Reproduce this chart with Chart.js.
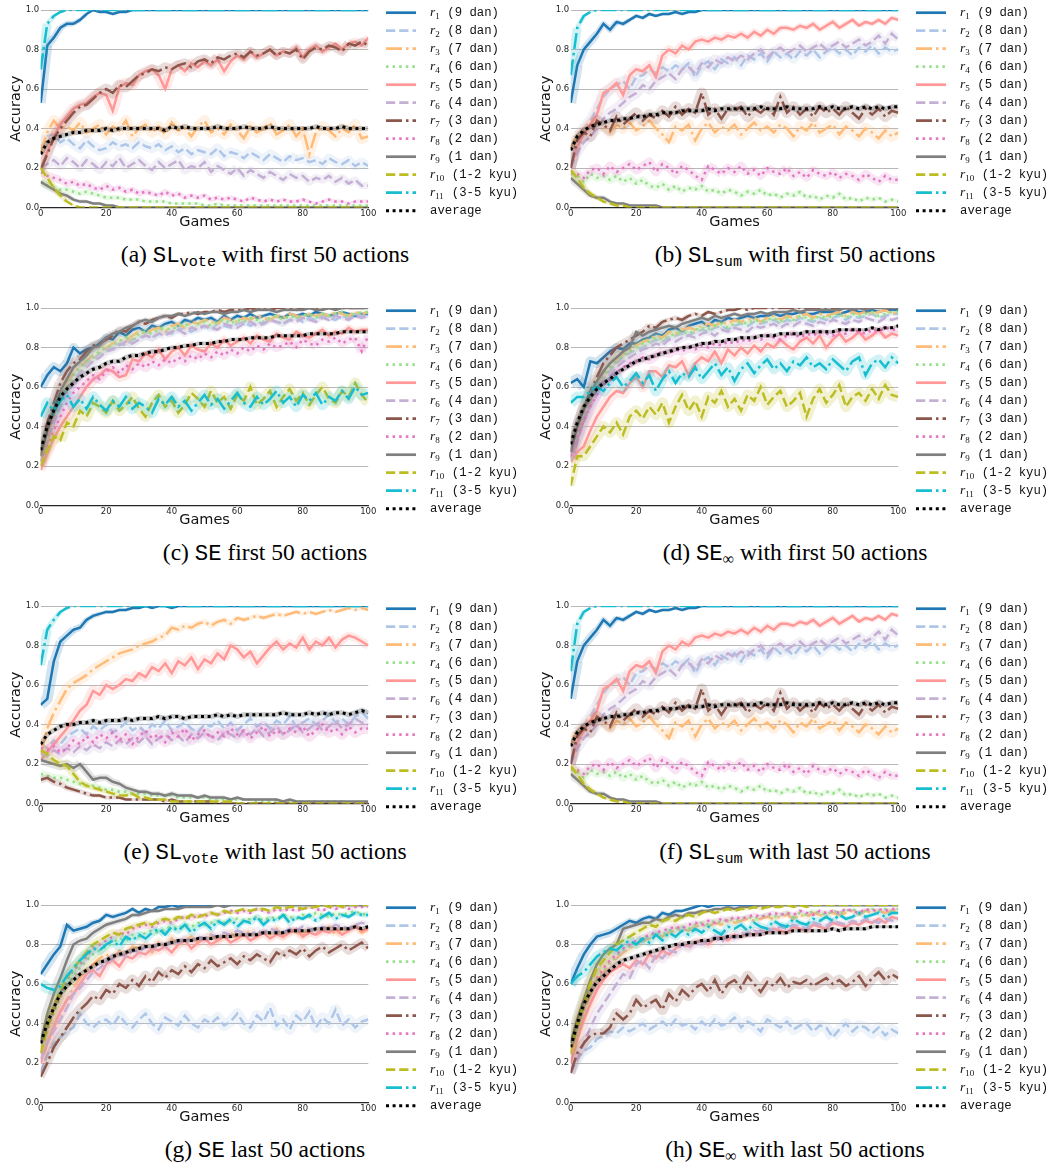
<!DOCTYPE html>
<html>
<head>
<meta charset="utf-8">
<script src="https://cdn.jsdelivr.net/npm/chart.js@4"></script>
<style>
  body { margin: 0; background: #fff; }
  #page { position: relative; width: 1053px; height: 1165px; overflow: hidden; background: #fff; }
  .panel { position: absolute; width: 528px; height: 232px; }
  .cap { position: absolute; width: 530px; text-align: center; font-family: "Liberation Serif", serif;
         font-size: 23.5px; line-height: 24px; color: #000; white-space: nowrap; }
  .tt { font-family: "Liberation Mono", monospace; font-size: 0.95em; }
  .cap sub { font-size: 0.68em; vertical-align: -0.28em; line-height: 0; }
  #warn { position: absolute; left: 400px; top: 270px; color: red; font: 14px sans-serif; }
</style>
</head>
<body>
<div id="page"></div>
<script>
// x positions (games), one point every 2 games
const games = [0,2,4,6,8,10,12,14,16,18,20,22,24,26,28,30,32,34,36,38,40,42,44,46,48,50,
  52,54,56,58,60,62,64,66,68,70,72,74,76,78,80,82,84,86,88,90,92,94,96,98,100];
const xTickLabels = ['0', '20', '40', '60', '80', '100'];
const yTickLabels = ['0.0', '0.2', '0.4', '0.6', '0.8', '1.0'];
const seriesNames = ['(9 dan)', '(8 dan)', '(7 dan)', '(6 dan)', '(5 dan)', '(4 dan)',
  '(3 dan)', '(2 dan)', '(1 dan)', '(1-2 kyu)', '(3-5 kyu)', 'average'];

// accuracy values in percent

// (a) SL_vote, first 50 actions
const a_r1 = [53,82,86,91,93,93,95,98,100,99, 99,98,99,99,100,100,100,100,100,100,
  100,100,100,100,100,100,100,100,100,100, 100,100,100,100,100,100,100,100,100,100,
  100,100,100,100,100,100,100,100,100,100, 100];
const a_r2 = [30,36,37,33,35,32,30,34,31,29, 30,33,31,32,30,33,31,30,32,29,
  31,28,30,27,29,28,27,30,26,28, 27,25,28,26,24,27,25,23,26,24, 25,23,24,22,25,23,22,24,21,23, 21];
const a_r3 = [28,38,44,40,41,39,43,38,40,42, 37,41,39,44,36,40,42,38,41,37,
  43,39,40,36,41,44,38,40,37,42, 39,35,41,38,40,43,37,39,42,36, 40,27,38,41,39,36,40,38,42,35, 36];
const a_r4 = [13,11,10,9,9,8,7,8,7,6, 5,5,5,4,4,4,3,3,3,3, 2,2,2,2,2,1,1,2,1,1,
  1,1,1,1,1,1,1,1,1,1, 1,1,1,1,1,1,1,1,1,1, 1];
const a_r5 = [20,28,36,42,46,50,52,53,56,58, 57,49,61,63,62,67,69,70,67,60,
  70,72,69,73,71,74,72,75,69,74, 77,75,79,76,78,80,77,79,78,81, 76,80,82,79,81,83,80,83,84,82, 86];
const a_r6 = [20,22,24,21,25,23,20,24,22,19, 23,21,25,20,22,24,21,19,23,20,
  22,24,19,21,20,23,18,21,19,17, 20,16,19,17,15,18,16,14,17,15, 16,13,15,14,16,13,15,12,14,11, 11];
const a_r7 = [19,27,35,40,44,48,51,52,55,58, 60,58,62,61,64,67,68,70,69,71,
  70,72,73,71,74,75,73,76,75,77, 78,76,79,77,78,80,77,79,78,80, 75,79,81,80,82,81,79,83,82,84, 82];
const a_r8 = [18,16,15,14,12,13,11,12,10,9, 11,9,10,8,9,7,8,7,6,8, 6,7,5,6,5,6,4,5,4,5,
  4,3,5,4,3,4,3,4,3,3, 4,3,2,3,4,3,3,2,3,3, 3];
const a_r9 = [13,11,9,7,6,4,3,3,2,2, 1,1,0,0,0,0,0,0,0,0, 0,0,0,0,0,0,0,0,0,0,
  0,0,0,0,0,0,0,0,0,0, 0,0,0,0,0,0,0,0,0,0, 0];
const a_r10 = [20,15,10,6,3,1,0,0,0,0, 0,0,0,0,0,0,0,0,0,0, 0,0,0,0,0,0,0,0,0,0,
  0,0,0,0,0,0,0,0,0,0, 0,0,0,0,0,0,0,0,0,0, 0];
const a_r11 = [70,93,97,99,100,100,100,100,100,100, 100,100,100,100,100,100,100,100,100,100,
  100,100,100,100,100,100,100,100,100,100, 100,100,100,100,100,100,100,100,100,100,
  100,100,100,100,100,100,100,100,100,100, 100];
const a_avg = [27,33,35,36,37,38,38,39,39,39, 40,39,40,40,40,40,40,40,40,39,
  41,40,41,40,40,40,40,41,40,40, 40,41,40,40,40,41,40,40,40,40, 40,40,41,40,40,40,41,40,40,40, 40];

// (b) SL_sum, first 50 actions  (panel (f) shows the same curves)
const b_r1 = [53,72,80,84,88,93,90,94,93,95, 97,96,98,97,98,98,99,98,99,99,
  100,100,100,100,100,100,100,100,100,100, 100,100,100,100,100,100,100,100,100,100,
  100,100,100,100,100,100,100,100,100,100, 100];
const b_r2 = [20,36,40,44,50,56,60,62,64,60, 66,67,70,68,71,69,72,70,73,66,
  72,74,70,75,73,76,72,77,75,78, 74,79,76,78,75,79,77,80,76,79, 81,78,80,77,81,79,82,78,81,79, 80];
const b_r3 = [30,36,39,42,43,41,38,42,40,43, 39,41,44,40,37,33,41,39,42,34,
  40,43,38,41,39,42,37,40,43,39, 41,38,42,40,36,41,39,43,38,40, 42,37,41,39,36,40,38,35,39,36, 38];
const b_r4 = [17,16,13,17,15,16,14,16,13,15, 12,14,11,10,12,9,11,8,10,9,
  11,8,9,7,9,8,6,8,7,9, 6,7,5,7,6,8,5,6,4,6, 5,7,4,5,3,5,4,5,3,4, 3];
const b_r5 = [20,31,37,42,47,58,60,63,57,67, 70,69,72,66,77,80,78,82,80,84,
  85,84,86,85,87,86,88,86,89,87, 90,88,91,91,90,92,91,93,90,92, 94,91,93,95,92,94,93,95,93,96, 95];
const b_r6 = [20,28,33,36,40,45,48,50,53,56, 58,62,60,64,66,68,65,70,71,68,
  73,71,75,73,76,74,77,75,78,80, 76,79,81,78,80,82,79,81,83,80, 82,84,81,83,85,82,84,87,83,88, 85];
const b_r7 = [20,34,38,36,44,42,39,46,42,45, 48,44,47,45,49,46,51,47,50,48,
  58,47,50,45,50,49,51,46,50,48, 51,47,56,48,51,47,50,46,51,48, 50,47,51,48,45,50,47,50,46,49, 48];
const b_r8 = [18,17,15,19,20,17,21,18,20,22, 19,21,23,18,22,20,17,21,19,16,
  14,21,19,17,20,18,21,17,19,16, 20,18,17,20,16,18,15,19,17,16, 18,15,17,16,14,17,15,13,16,14, 14];
const b_r9 = [15,12,9,6,5,5,3,2,2,1, 1,1,1,1,0,0,0,0,0,0, 0,0,0,0,0,0,0,0,0,0,
  0,0,0,0,0,0,0,0,0,0, 0,0,0,0,0,0,0,0,0,0, 0];
const b_r10 = [19,15,10,7,5,3,2,1,1,0, 0,0,0,0,0,0,0,0,0,0, 0,0,0,0,0,0,0,0,0,0,
  0,0,0,0,0,0,0,0,0,0, 0,0,0,0,0,0,0,0,0,0, 0];
const b_r11 = [67,91,97,99,100,100,100,100,100,100, 100,100,100,100,100,100,100,100,100,100,
  100,100,100,100,100,100,100,100,100,100, 100,100,100,100,100,100,100,100,100,100,
  100,100,100,100,100,100,100,100,100,100, 100];
const b_avg = [29,36,39,41,42,43,44,44,45,45, 46,46,47,47,48,48,48,49,49,49,
  49,50,49,50,50,50,50,50,50,51, 50,50,50,51,50,50,50,50,51,50, 51,50,50,51,50,51,50,51,50,51, 51];

// (c) SE, first 50 actions
const c_r1 = [60,66,70,68,72,80,77,79,80,82, 85,84,88,86,89,90,88,91,90,92,
  93,91,94,93,95,94,95,93,96,94, 96,95,97,95,96,97,96,95,97,96, 97,96,98,97,96,97,98,97,96,97, 97];
const c_r2 = [22,33,43,52,58,64,68,72,74,77, 79,80,82,81,84,85,86,85,87,88,
  87,89,90,88,90,91,89,92,91,90, 92,93,91,93,92,94,93,92,94,95, 93,95,94,96,95,94,96,95,97,96, 96];
const c_r3 = [22,35,45,55,62,67,70,73,76,78, 80,82,84,83,86,88,87,89,90,88,
  91,92,90,93,92,94,93,92,95,94, 93,95,94,96,95,94,96,95,97,96, 95,97,96,97,96,98,97,96,98,97, 98];
const c_r4 = [22,34,44,53,60,66,69,73,75,78, 80,81,83,85,84,87,88,87,89,90,
  89,91,92,90,92,93,91,93,94,92, 94,93,95,94,93,95,96,94,96,95, 96,97,95,97,96,97,98,96,97,98, 98];
const c_r5 = [18,26,34,40,45,50,55,60,64,66, 69,68,65,66,74,73,77,75,79,74,
  78,80,76,81,79,78,82,80,84,81, 83,85,82,86,84,83,87,85,84,88, 86,85,87,89,86,88,87,90,88,89, 89];
const c_r6 = [22,32,42,50,57,62,67,70,73,75, 78,79,81,83,82,84,86,85,87,86,
  88,89,87,90,89,91,90,89,92,91, 90,92,93,91,92,94,93,92,94,93, 95,94,93,95,94,96,95,94,96,95, 96];
const c_r7 = [25,42,52,62,68,72,74,78,81,82, 84,86,89,88,91,93,92,94,95,96,
  95,97,97,98,97,98,98,99,98,99, 99,99,100,99,100,99,100,100,100,99,
  100,100,100,100,100,100,100,100,100,100, 100];
const c_r8 = [20,30,38,45,52,57,60,63,66,64, 68,70,67,71,69,72,70,73,71,74,
  72,75,73,76,74,77,75,78,76,79, 77,80,78,81,79,82,80,81,83,80, 84,82,81,84,83,85,82,84,85,78, 86];
const c_r9 = [25,38,48,58,64,70,73,76,80,81, 85,87,88,90,91,93,94,93,95,96,
  96,97,96,97,98,97,98,98,97,98, 98,99,98,99,99,99,98,99,99,99, 99,100,99,99,100,99,100,100,100,100, 100];
const c_r10 = [20,28,35,33,42,40,48,45,52,50, 47,53,48,51,55,49,45,52,56,50,
  53,47,51,57,54,50,58,52,55,49, 56,53,60,51,54,58,50,55,59,53, 57,51,56,60,54,52,58,55,62,56, 52];
const c_r11 = [45,52,48,53,56,50,54,49,55,51, 48,53,50,55,49,52,50,47,54,51,
  55,50,53,48,52,56,51,54,49,53, 57,52,50,55,51,54,58,52,55,50, 56,53,57,51,55,53,58,54,60,56, 57];
const c_avg = [28,40,48,55,59,62,65,67,69,70, 72,73,73,75,76,76,77,78,78,79,
  80,80,81,81,82,82,82,83,83,84, 84,84,85,85,85,85,86,86,86,86, 86,87,87,87,87,87,88,88,88,88, 88];

// (d) SE_inf, first 50 actions
const d_r1 = [62,64,60,73,72,75,78,80,79,82, 82,84,85,87,86,89,90,88,91,92,
  93,91,94,93,95,94,95,96,95,96, 96,97,96,97,97,98,97,97,98,98, 98,97,98,99,98,98,99,98,99,99, 99];
const d_r2 = [24,34,44,52,58,64,68,72,75,77, 79,80,82,84,83,85,86,87,86,88,
  89,88,90,91,89,91,92,91,93,92, 93,94,92,94,93,95,94,93,95,94, 95,96,94,96,95,96,97,95,96,97, 97];
const d_r3 = [24,36,46,55,62,67,71,74,77,79, 81,83,84,86,85,88,87,89,90,89,
  91,92,91,93,92,94,93,94,95,93, 95,96,94,96,95,96,97,95,97,96, 97,98,96,98,97,98,97,98,99,97, 98];
const d_r4 = [24,35,45,53,60,65,70,73,76,78, 80,82,83,85,84,86,87,88,87,89,
  90,89,91,92,90,92,93,92,94,93, 94,95,93,95,94,96,95,94,96,95, 96,97,95,97,96,97,98,96,97,98, 98];
const d_r5 = [22,27,30,38,45,50,55,58,57,62, 65,60,68,68,65,71,70,73,66,72,
  75,73,78,72,79,76,80,77,81,78, 82,80,84,81,79,83,85,82,86,80, 84,87,83,85,88,84,86,89,85,87, 86];
const d_r6 = [23,32,42,50,56,62,66,70,73,75, 77,79,80,82,81,84,83,85,86,85,
  87,88,86,89,88,90,89,88,91,90, 91,92,90,92,91,93,92,91,93,92, 94,93,92,94,93,95,94,93,95,94, 95];
const d_r7 = [27,40,50,58,65,72,76,80,82,84, 86,88,91,90,93,94,95,94,96,97,
  96,98,97,98,99,99,100,99,100,100, 100,100,100,100,100,100,100,100,100,100,
  100,100,100,100,100,100,100,100,100,100, 100];
const d_r8 = [25,35,43,50,56,61,64,67,70,72, 73,75,74,76,78,77,79,78,80,79,
  81,80,82,81,83,82,84,83,85,84, 86,85,84,86,87,85,87,86,88,87, 86,88,87,89,88,87,89,88,90,89, 89];
const d_r9 = [27,40,49,57,63,68,72,75,78,80, 88,86,88,89,90,91,90,92,93,94,
  95,94,96,95,96,97,96,97,97,98, 97,98,98,98,99,98,99,99,99,99, 99,99,100,99,100,99,100,100,100,100, 100];
const d_r10 = [10,25,25,30,35,40,37,42,36,45, 48,44,50,46,52,42,50,56,48,53,
  45,55,52,58,50,54,48,56,53,60, 51,55,58,50,53,57,45,54,59,52, 56,61,50,55,57,53,59,54,61,56, 55];
const d_r11 = [52,55,55,58,60,58,62,65,60,63, 67,62,66,58,64,68,62,67,65,70,
  64,68,72,66,70,63,69,72,67,71, 74,69,72,68,73,71,75,70,72,69, 74,71,68,73,75,66,72,74,70,75, 72];
const d_avg = [31,42,50,55,59,62,64,67,69,71, 73,74,75,76,77,78,79,80,80,81,
  82,82,83,83,84,84,85,85,85,86, 86,86,87,87,87,87,88,88,88,88, 88,89,89,89,89,89,90,89,90,90, 91];

// (e) SL_vote, last 50 actions
const e_r1 = [50,53,72,82,85,88,89,93,95,96, 97,97,98,98,99,99,100,99,100,100,
  99,100,100,100,100,100,100,100,100,100, 100,100,100,100,100,100,100,100,100,100,
  100,100,100,100,100,100,100,100,100,100, 100];
const e_r2 = [30,28,32,30,34,36,38,35,39,37, 40,36,38,41,37,39,36,40,38,42,
  37,39,41,38,36,40,39,42,38,41, 37,40,43,39,41,38,42,40,44,39, 41,43,40,42,45,41,43,40,44,46, 43];
const e_r3 = [25,38,46,52,58,61,63,65,68,70, 72,74,76,77,78,80,81,82,84,85,
  89,88,90,89,91,92,90,92,93,91, 94,93,94,95,94,95,96,95,96,97, 96,97,96,97,98,97,98,99,98,99, 98];
const e_r4 = [15,14,13,13,12,11,10,9,9,8, 7,7,6,6,5,5,5,4,4,4, 4,3,3,3,3,3,2,2,2,2,
  2,2,2,1,1,1,1,1,1,1, 1,1,1,1,1,1,1,0,0,0, 0];
const e_r5 = [22,26,30,34,38,42,47,50,57,55, 60,58,60,63,62,66,64,69,67,71,
  66,72,70,74,68,73,71,76,73,80, 78,74,77,71,75,79,82,78,81,79, 84,78,82,80,84,79,83,85,84,82, 80];
const e_r6 = [25,24,27,25,28,26,29,27,30,28, 31,29,32,30,33,31,34,30,33,35,
  32,34,31,35,33,36,34,32,36,35, 33,37,35,38,34,36,39,35,37,40, 36,38,41,37,39,42,38,40,43,41, 40];
const e_r7 = [12,13,11,10,8,7,6,5,4,4, 3,3,3,2,2,2,2,2,2,1, 2,1,1,1,1,1,1,0,0,0,
  0,0,0,0,0,0,0,0,0,0, 0,0,0,0,0,0,0,0,0,0, 0];
const e_r8 = [28,27,29,26,28,32,30,34,31,35, 33,36,32,35,30,34,37,33,35,31,
  36,34,38,32,35,37,33,36,34,38, 35,37,33,36,39,34,37,35,38,36, 39,34,37,40,36,38,35,39,36,38, 38];
const e_r9 = [22,21,20,19,20,18,20,16,12,13, 13,11,10,8,7,6,6,5,5,4, 5,4,4,4,3,4,3,3,3,2,
  3,2,2,2,2,2,2,1,2,1, 1,1,1,1,1,1,1,1,1,1, 1];
const e_r10 = [27,25,22,20,19,15,11,9,8,7, 6,5,4,4,5,3,3,2,2,2, 1,1,1,1,1,1,1,1,1,1,
  0,0,0,0,0,0,0,0,0,0, 0,0,0,0,0,0,0,0,0,0, 0];
const e_r11 = [70,88,93,97,99,100,100,100,100,100, 100,100,100,100,100,100,100,100,100,100,
  100,100,100,100,100,100,100,100,100,100, 100,100,100,100,100,100,100,100,100,100,
  100,100,100,100,100,100,100,100,100,100, 100];
const e_avg = [30,35,37,39,40,40,41,41,42,41, 42,42,42,43,42,43,43,43,44,43,
  44,44,43,44,44,44,44,45,44,45, 44,45,45,45,45,45,45,46,45,45, 45,46,45,46,45,46,46,45,46,47, 46];

// (g) SE, last 50 actions
const g_r1 = [65,70,75,79,90,87,88,89,91,92, 95,94,95,96,98,96,98,97,99,99,
  100,99,100,100,100,100,100,100,100,100, 100,100,100,100,100,100,100,100,100,100,
  100,100,100,100,100,100,100,100,100,100, 100];
const g_r2 = [15,24,30,33,36,38,45,40,38,41, 42,39,44,40,38,42,45,40,37,43,
  41,39,44,40,38,42,40,43,39,41, 45,40,38,44,41,48,39,42,37,44, 41,46,38,43,40,47,39,42,38,41, 42];
const g_r3 = [22,30,38,45,52,58,63,67,70,73, 75,72,77,75,79,78,80,76,81,79,
  83,80,82,84,81,83,85,82,84,86, 83,85,87,84,86,85,88,84,87,86, 85,88,86,87,89,85,88,87,89,86, 88];
const g_r4 = [25,36,45,53,59,64,68,72,75,77, 79,81,83,82,85,84,86,87,86,88,
  89,88,90,89,91,90,91,92,91,92, 93,92,93,94,92,94,93,95,94,93, 95,94,96,95,94,96,95,96,97,95, 96];
const g_r5 = [20,30,38,46,52,55,60,65,67,64, 70,72,69,74,73,76,75,78,77,79,
  76,80,82,78,81,83,80,82,84,81, 83,85,82,84,86,83,85,84,86,88, 84,86,85,87,86,88,85,87,89,87, 88];
const g_r6 = [22,30,36,42,48,55,58,62,66,68, 71,73,75,74,77,76,79,78,80,79,
  82,81,83,82,84,83,85,84,86,85, 87,86,85,87,86,88,87,86,88,87, 89,88,87,89,88,90,89,88,90,91, 90];
const g_r7 = [13,20,28,33,38,43,47,50,54,52, 57,55,60,58,62,59,64,61,66,63,
  67,65,69,66,70,68,72,69,71,73, 70,74,72,75,73,71,76,74,77,75, 78,74,77,79,76,78,80,77,79,81, 78];
const g_r8 = [25,37,47,55,62,67,70,74,78,80, 82,84,86,85,88,89,90,89,91,92,
  91,93,94,93,95,94,96,95,96,97, 96,97,96,98,97,96,98,97,98,97, 98,99,98,97,99,98,99,98,99,99, 99];
const g_r9 = [30,45,55,63,72,80,82,83,86,88, 90,91,92,93,95,95,96,97,97,98,
  98,98,99,99,99,99,99,100,99,100, 100,100,100,100,100,100,100,100,100,100,
  100,100,100,100,100,100,100,100,100,100, 100];
const g_r10 = [25,38,48,57,63,68,72,76,80,82, 84,86,85,88,89,90,91,90,92,93,
  92,94,93,95,94,95,96,95,97,96, 97,98,97,98,98,97,99,98,99,99, 98,99,99,100,99,100,99,100,100,100, 100];
const g_r11 = [60,58,57,59,64,68,72,75,78,77, 80,82,79,84,82,85,83,86,88,85,
  89,87,90,86,89,91,88,92,90,93, 89,92,91,94,90,93,92,95,91,94, 93,95,92,94,96,93,95,94,96,95, 95];
const g_avg = [30,40,48,55,59,62,65,67,69,71, 72,74,75,76,77,78,79,79,80,80,
  81,82,82,82,83,83,83,84,84,84, 85,85,85,85,86,86,86,86,87,87, 87,87,88,88,88,88,88,88,89,88, 89];

// (h) SE_inf, last 50 actions
const h_r1 = [60,68,75,80,84,85,86,88,90,92, 91,93,94,93,96,95,97,97,98,99,
  100,99,100,100,100,100,100,100,100,100, 100,100,100,100,100,100,100,100,100,100,
  100,100,100,100,100,100,100,100,100,100, 100];
const h_r2 = [15,22,26,28,32,34,36,35,38,36, 38,40,37,39,41,38,42,39,40,37,
  41,38,42,39,40,43,38,41,39,36, 42,40,38,41,37,39,40,36,39,38, 33,37,40,36,39,38,35,38,34,37, 35];
const h_r3 = [24,36,46,54,61,66,70,73,76,78, 80,82,83,85,84,86,87,88,87,89,
  90,89,91,90,92,91,92,93,92,93, 94,93,94,95,93,95,94,96,95,94, 96,95,96,97,95,97,96,97,96,97, 97];
const h_r4 = [24,37,47,55,62,67,71,74,77,79, 81,83,84,86,85,87,88,89,88,90,
  91,90,92,91,93,92,93,94,93,94, 95,94,95,96,94,96,95,97,96,95, 97,96,97,98,96,97,98,97,98,97, 98];
const h_r5 = [20,32,42,50,57,62,66,68,70,68, 72,70,75,73,77,75,78,80,79,81,
  82,80,83,84,82,85,84,86,85,87, 86,88,87,86,89,88,87,90,89,88, 91,90,89,91,90,92,91,93,91,94, 93];
const h_r6 = [15,22,30,38,45,50,55,60,65,63, 70,72,68,75,73,77,76,80,78,81,
  80,82,84,81,85,83,86,85,87,86, 88,87,89,88,90,89,88,91,90,89, 92,91,90,92,91,93,92,91,93,92, 93];
const h_r7 = [15,25,30,34,35,35,38,45,42,45, 52,48,50,52,47,55,51,57,54,58,
  60,56,62,55,60,62,58,64,60,56, 61,59,63,58,61,60,62,59,61,63, 60,62,59,61,64,59,63,66,62,65, 63];
const h_r8 = [25,38,48,56,63,68,72,75,78,80, 82,83,85,86,87,88,89,88,90,91,
  90,92,91,93,92,94,93,94,95,94, 95,96,95,96,95,97,96,95,97,96, 97,96,98,97,96,98,97,98,97,98, 98];
const h_r9 = [30,42,52,62,70,75,78,80,88,89, 90,91,91,93,92,94,95,94,96,96,
  97,97,98,98,99,98,99,99,99,100, 99,100,100,100,100,100,100,100,100,100,
  100,100,100,100,100,100,100,100,100,100, 100];
const h_r10 = [25,40,50,60,68,72,76,80,82,84, 86,88,90,89,92,93,92,94,95,94,
  96,97,96,97,98,97,98,98,99,98, 99,99,99,100,99,100,99,100,100,100,
  100,100,100,100,100,100,100,100,100,100, 100];
const h_r11 = [60,64,66,70,74,76,78,77,80,82, 80,83,81,85,82,86,84,87,85,88,
  86,89,87,85,89,88,90,87,91,89, 88,92,90,89,93,91,90,93,92,94, 92,95,93,94,96,94,95,96,94,96, 96];
const h_avg = [28,40,50,56,61,64,67,70,72,73, 74,75,76,77,78,79,80,80,81,81,
  82,82,83,83,84,84,84,85,85,85, 86,86,86,86,87,87,87,87,87,87, 88,87,88,88,88,88,89,89,89,89, 89];

// ---- styling ----
const lineColors = ['#1f77b4', '#aec7e8', '#ffbb78', '#98df8a', '#ff9896', '#c5b0d5',
  '#8c564b', '#e377c2', '#7f7f7f', '#bcbd22', '#17becf', '#000000'];
const LW = 2.5;
const dashes = { solid: [], dashed: [9.25, 4], dashdot: [16, 4, 2.5, 4], dotted: [2.5, 4.1], avg: [3, 3.6] };
const lineDash = ['solid', 'dashed', 'dashdot', 'dotted', 'solid', 'dashed', 'dashdot', 'dotted',
  'solid', 'dashed', 'dashdot', 'avg'];

const panels = [
  { id: 'a', col: 0, row: 0, series: [a_r1, a_r2, a_r3, a_r4, a_r5, a_r6, a_r7, a_r8, a_r9, a_r10, a_r11, a_avg],
    cap: '(a) <span class="tt">SL<sub>vote</sub></span> with first 50 actions' },
  { id: 'b', col: 1, row: 0, series: [b_r1, b_r2, b_r3, b_r4, b_r5, b_r6, b_r7, b_r8, b_r9, b_r10, b_r11, b_avg],
    cap: '(b) <span class="tt">SL<sub>sum</sub></span> with first 50 actions' },
  { id: 'c', col: 0, row: 1, series: [c_r1, c_r2, c_r3, c_r4, c_r5, c_r6, c_r7, c_r8, c_r9, c_r10, c_r11, c_avg],
    cap: '(c) <span class="tt">SE</span> first 50 actions' },
  { id: 'd', col: 1, row: 1, series: [d_r1, d_r2, d_r3, d_r4, d_r5, d_r6, d_r7, d_r8, d_r9, d_r10, d_r11, d_avg],
    cap: '(d) <span class="tt">SE</span><sub>\u221e</sub> with first 50 actions' },
  { id: 'e', col: 0, row: 2, series: [e_r1, e_r2, e_r3, e_r4, e_r5, e_r6, e_r7, e_r8, e_r9, e_r10, e_r11, e_avg],
    cap: '(e) <span class="tt">SL<sub>vote</sub></span> with last 50 actions' },
  { id: 'f', col: 1, row: 2, series: [b_r1, b_r2, b_r3, b_r4, b_r5, b_r6, b_r7, b_r8, b_r9, b_r10, b_r11, b_avg],
    cap: '(f) <span class="tt">SL<sub>sum</sub></span> with last 50 actions' },
  { id: 'g', col: 0, row: 3, series: [g_r1, g_r2, g_r3, g_r4, g_r5, g_r6, g_r7, g_r8, g_r9, g_r10, g_r11, g_avg],
    cap: '(g) <span class="tt">SE</span> last 50 actions' },
  { id: 'h', col: 1, row: 3, series: [h_r1, h_r2, h_r3, h_r4, h_r5, h_r6, h_r7, h_r8, h_r9, h_r10, h_r11, h_avg],
    cap: '(h) <span class="tt">SE</span><sub>\u221e</sub> with last 50 actions' }
];

const rowTop = [0, 297.7, 596, 894.7];
const capMid = [254, 552, 851, 1149];

function rgba(hex, a) {
  const n = parseInt(hex.slice(1), 16);
  return `rgba(${n >> 16},${(n >> 8) & 255},${n & 255},${a})`;
}

// band width follows the spread of a rate: wide in the middle, nothing at 0 or 1
function bandWidth(c, k) {
  const p = (c.p0.parsed.y + c.p1.parsed.y) / 200;
  return Math.round(k * Math.sqrt(Math.max(p * (1 - p), 0)));
}

function makeDatasets(series) {
  const out = [];
  series.forEach((ys, i) => {
    const pts = ys.map((y, j) => ({ x: games[j], y }));
    const k = i === 11 ? 11 : 22;
    const band = rgba(lineColors[i], 0.2);
    out.push({
      data: pts, borderColor: band, borderWidth: 1, pointRadius: 0, tension: 0,
      borderJoinStyle: 'round', borderCapStyle: 'butt',
      segment: {
        borderWidth: c => Math.max(1, bandWidth(c, k)),
        borderColor: c => bandWidth(c, k) < 1 ? 'rgba(0,0,0,0)' : band
      }
    });
    out.push({
      data: pts, borderColor: lineColors[i], borderWidth: i === 11 ? 3 : LW,
      borderDash: dashes[lineDash[i]], pointRadius: 0, tension: 0, borderCapStyle: 'butt'
    });
  });
  out.forEach((d, i) => { d.order = out.length - i; });
  return out;
}

const sideLegend = {
  id: 'sideLegend',
  afterDraw(chart) {
    const { ctx, chartArea } = chart;
    const x0 = chartArea.right + 17.7;
    ctx.save();
    seriesNames.forEach((name, i) => {
      const y = chartArea.top + 2.7 + 18 * i;
      ctx.strokeStyle = lineColors[i];
      ctx.lineWidth = i === 11 ? 3 : 2.7;
      ctx.lineCap = 'butt';
      ctx.setLineDash(dashes[lineDash[i]]);
      ctx.beginPath();
      ctx.moveTo(x0, y);
      ctx.lineTo(x0 + 30, y);
      ctx.stroke();
      ctx.setLineDash([]);
      ctx.fillStyle = '#111';
      ctx.textBaseline = 'middle';
      let tx = x0 + 44;
      if (i < 11) {
        ctx.font = 'italic 13.5px "Liberation Serif"';
        ctx.fillText('r', tx, y);
        ctx.font = '9px "Liberation Serif"';
        ctx.fillText(String(i + 1), tx + 5.2, y + 3.5);
        tx += i + 1 >= 10 ? 21.8 : 17.3;
      }
      ctx.font = '12.3px "Liberation Mono"';
      ctx.fillText(name, tx, y);
    });
    ctx.restore();
  }
};

const page = document.getElementById('page');
let bad = [];

panels.forEach(p => {
  p.series.forEach((s, i) => { if (s.length !== games.length) bad.push(p.id + (i + 1) + ':' + s.length); });

  const wrap = document.createElement('div');
  wrap.className = 'panel';
  wrap.style.left = (p.col * 530) + 'px';
  wrap.style.top = rowTop[p.row] + 'px';
  const cv = document.createElement('canvas');
  cv.width = 528;
  cv.height = 232;
  wrap.appendChild(cv);
  page.appendChild(wrap);

  const cap = document.createElement('div');
  cap.className = 'cap';
  cap.style.left = (p.col * 530) + 'px';
  cap.style.top = (capMid[p.row] - 12) + 'px';
  cap.innerHTML = p.cap;
  page.appendChild(cap);

  new Chart(cv, {
    type: 'line',
    data: { datasets: makeDatasets(p.series) },
    options: {
      responsive: false,
      animation: false,
      events: [],
      layout: { padding: { left: 0, right: 159.7, top: 10, bottom: 0 } },
      plugins: { legend: { display: false }, tooltip: { enabled: false } },
      scales: {
        x: {
          type: 'linear', min: 0, max: 100,
          afterFit(s) { s.height = 24.5; },
          grid: { display: false, drawTicks: false },
          border: { display: true, color: '#262626', width: 1.2 },
          ticks: {
            stepSize: 20, padding: 1, color: '#262626', maxRotation: 0,
            font: { family: 'DejaVu Sans', size: 8.5 },
            callback: v => xTickLabels[Math.round(v / 20)]
          },
          title: {
            display: true, text: 'Games', color: '#111',
            font: { family: 'DejaVu Sans', size: 14.5 }, padding: { top: 0, bottom: 1.5 }
          }
        },
        y: {
          min: 0, max: 100,
          afterFit(s) { s.width = 40.7; },
          grid: { color: '#b8b8b8', lineWidth: 1, drawTicks: false },
          border: { display: false },
          ticks: {
            stepSize: 20, padding: 1.5, color: '#262626',
            font: { family: 'DejaVu Sans', size: 8.5 },
            callback: v => yTickLabels[Math.round(v / 20)]
          },
          title: {
            display: true, text: 'Accuracy', color: '#111',
            font: { family: 'DejaVu Sans', size: 14.5 }, padding: { top: 8, bottom: 0 }
          }
        }
      }
    },
    plugins: [sideLegend]
  });
});

if (bad.length) {
  const w = document.createElement('div');
  w.id = 'warn';
  w.textContent = 'length mismatch: ' + bad.join(' ');
  page.appendChild(w);
}
</script>
</body>
</html>
